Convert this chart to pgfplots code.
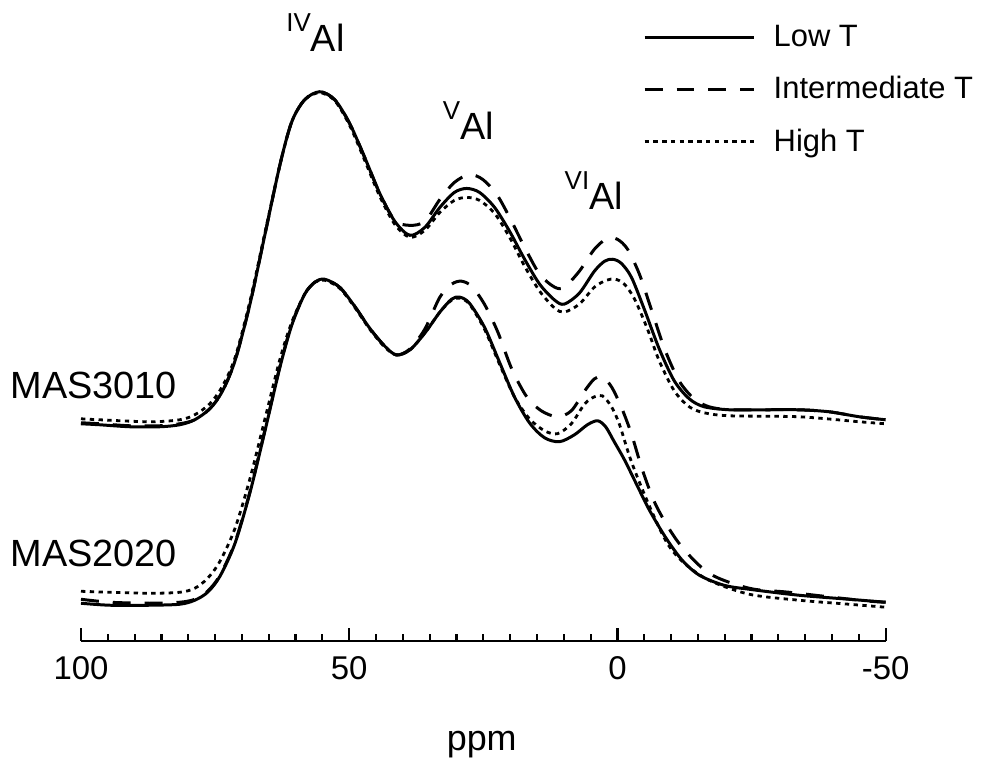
\documentclass[border=0pt]{standalone}
\usepackage{fontspec}
\setmainfont{Liberation Sans}
\usepackage{pgfplots}
\pgfplotsset{compat=1.18}
\usepackage{pgfplotstable}

% y = height above the baseline axis, in image pixels
\pgfplotstableread{
x y
100.0 218
96.5 217
90.9 215
85.3 215
81.6 217
78.8 222
76.0 233
73.7 250
71.3 281
68.5 338
65.7 408
62.9 478
60.7 521
58.3 543
55.5 551
52.7 543
49.9 519
47.1 485
44.3 449
41.5 421
38.7 407
35.9 415
33.1 435
30.4 450
28.1 454
25.7 450
22.9 435
20.1 411
17.3 383
14.5 358
11.7 342
9.9 338
7.1 349
4.3 371
2.4 381
0.9 383
-0.7 379
-2.6 365
-5.0 333
-7.8 293
-10.6 261
-13.4 243
-16.2 235
-20.9 232
-26.4 232
-33.9 232
-39.5 230
-45.1 225
-50.0 222
}\toplow
\pgfplotstableread{
x y
100.0 219
96.5 218
90.9 216
85.3 216
81.6 218
78.8 222
76.0 233
73.7 250
71.3 281
68.5 338
65.7 408
62.9 478
60.7 521
58.3 543
55.5 551
52.7 543
49.9 519
47.1 485
44.3 449
41.5 422
38.7 417
35.9 421
33.1 443
30.4 460
27.6 468
25.1 463
22.5 448
20.1 425
17.3 395
14.5 368
11.7 355
9.9 355
7.1 371
4.3 393
1.9 404
0.0 403
-1.9 393
-4.1 368
-6.3 333
-8.8 293
-11.5 261
-14.3 243
-17.1 235
-20.9 232
-26.4 232
-33.9 232
-39.5 230
-45.1 225
-50.0 222
}\topmid
\pgfplotstableread{
x y
100.0 223
96.5 222
87.2 220
81.6 222
78.8 227
76.0 238
73.7 255
71.3 284
68.5 341
65.7 410
62.9 478
60.7 521
58.3 543
55.5 550
52.7 542
49.9 517
47.1 482
44.3 446
41.5 418
38.7 405
35.9 412
33.1 430
30.4 442
28.1 445
25.7 442
22.9 429
20.1 405
17.3 376
14.5 351
11.7 334
9.9 330
7.1 338
4.3 355
2.0 362
0.4 363
-1.3 358
-3.2 343
-5.6 313
-7.8 281
-10.6 251
-13.4 235
-16.2 229
-20.9 226
-33.9 225
-45.1 220
-50.0 218
}\tophigh
\pgfplotstableread{
x y
100.0 38
94.6 36
87.2 36
81.6 37
78.8 41
76.4 49
74.1 65
71.3 98
68.5 149
65.7 211
62.9 275
60.7 317
58.3 348
56.4 360
54.6 363
51.8 355
49.0 336
46.2 314
43.4 296
41.2 287
38.7 292
35.9 309
33.1 330
30.9 343
29.4 345
27.6 339
24.8 315
22.0 280
19.2 245
16.4 219
13.6 204
10.8 200
8.0 207
5.6 217
3.7 221
2.2 215
0.6 200
-1.3 182
-3.5 158
-6.0 131
-9.1 103
-12.1 81
-15.3 66
-19.9 56
-24.6 52
-33.9 46
-43.2 42
-50.0 39
}\botlow
\pgfplotstableread{
x y
100.0 42
94.6 39
87.2 38
81.6 39
78.8 42
76.4 50
74.1 66
71.3 99
68.5 150
65.7 212
62.9 276
60.7 318
58.3 348
56.4 360
54.6 363
51.8 355
49.0 336
46.2 314
43.4 296
41.2 287
38.7 293
35.9 313
33.1 345
30.9 358
29.1 361
27.2 356
24.8 338
22.3 310
19.7 273
16.9 245
14.2 231
11.2 225
8.6 231
6.1 251
4.3 263
2.8 265
1.1 255
-0.7 235
-2.6 208
-4.7 171
-7.3 135
-11.5 98
-17.1 68
-24.6 53
-32.0 49
-45.1 41
-50.0 39
}\botmid
\pgfplotstableread{
x y
100.0 50
94.6 49
87.2 48
81.6 49
78.8 53
76.4 63
74.1 80
71.3 113
68.5 163
65.7 223
62.9 283
60.7 320
58.3 348
56.4 360
54.6 362
51.8 354
49.0 335
46.2 313
43.4 295
41.2 287
38.7 292
35.9 309
33.1 330
30.9 342
29.4 344
27.6 338
24.8 313
22.0 278
19.2 245
16.4 223
13.6 211
11.2 208
8.6 218
6.1 238
4.3 245
2.8 246
1.1 235
-0.4 217
-2.6 180
-6.0 135
-9.3 98
-12.5 78
-17.1 61
-24.6 47
-33.9 41
-43.2 37
-50.0 34
}\bothigh

\begin{document}
\begin{tikzpicture}
\begin{axis}[
  scale only axis,
  width=403.5pt, height=312.5pt,
  x dir=reverse,
  xmin=-50, xmax=100,
  ymin=0, ymax=625,
  axis x line=bottom,
  axis y line=none,
  axis line style={-, line width=1.3pt},
  xtick={-50,0,50,100},
  minor x tick num=9,
  tick align=inside,
  major tick length=6.5pt,
  minor tick length=3.5pt,
  every tick/.style={black, line width=1.1pt},
  xticklabel style={font=\fontsize{16.5}{18}\selectfont, yshift=-4pt},
  /pgf/number format/assume math mode=true,
  clip=false,
  legend style={at={(axis cs:-3.6,626)}, anchor=north west, draw=none,
    fill=none, font=\fontsize{15.5}{18.5}\selectfont, row sep=9.5pt,
    nodes={inner sep=2pt}},
  legend cell align=left,
  legend image code/.code={\draw[#1] (0pt,0pt) -- (55pt,0pt);},
  /tikz/every odd column/.append style={column sep=7pt},
]
\path (axis cs:115.1,643) rectangle (axis cs:-68,-118);

\addplot[black, line width=1.5pt, smooth] table {\toplow};
\addlegendentry{Low T}
\addplot[black, line width=1.5pt, smooth, dash pattern=on 9pt off 7pt] table {\topmid};
\addlegendentry{Intermediate T}
\addplot[black, line width=1.4pt, smooth, dash pattern=on 2.2pt off 2.2pt] table {\tophigh};
\addlegendentry{High T}

\addplot[black, line width=1.5pt, smooth, forget plot] table {\botlow};
\addplot[black, line width=1.5pt, smooth, dash pattern=on 9pt off 7pt, forget plot] table {\botmid};
\addplot[black, line width=1.4pt, smooth, dash pattern=on 2.2pt off 2.2pt, forget plot] table {\bothigh};

\node[anchor=west, font=\fontsize{19}{22}\selectfont, inner sep=0pt] at (axis cs:113.2,256) {MAS3010};
\node[anchor=west, font=\fontsize{19}{22}\selectfont, inner sep=0pt] at (axis cs:113.2,88) {MAS2020};

\node[anchor=base west, font=\fontsize{19}{22}\selectfont, inner sep=0pt] at (axis cs:61.8,591)
  {\raisebox{10pt}{\fontsize{13}{13}\selectfont IV}Al};
\node[anchor=base west, font=\fontsize{19}{22}\selectfont, inner sep=0pt] at (axis cs:32.6,503)
  {\raisebox{10pt}{\fontsize{13}{13}\selectfont V}Al};
\node[anchor=base west, font=\fontsize{19}{22}\selectfont, inner sep=0pt] at (axis cs:9.9,433)
  {\raisebox{10pt}{\fontsize{13}{13}\selectfont VI}Al};

\node[anchor=base, font=\fontsize{18}{20}\selectfont, inner sep=0pt] at (axis cs:25.3,-110) {ppm};
\end{axis}
\end{tikzpicture}
\end{document}
